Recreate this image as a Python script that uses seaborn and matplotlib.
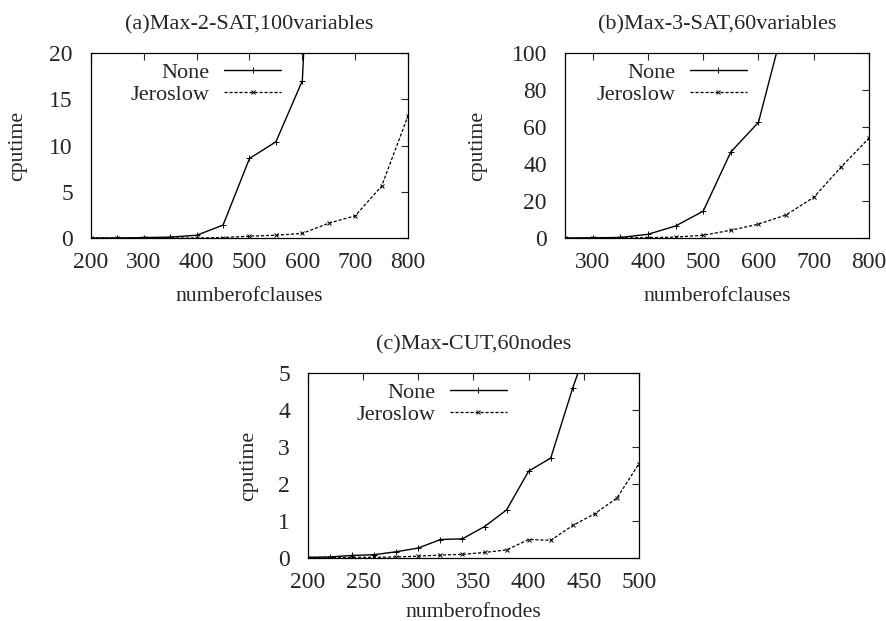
import matplotlib
matplotlib.use('Agg')
import matplotlib.pyplot as plt
import seaborn as sns
import pandas as pd

# panel (a) Max-2-SAT, 100 variables
a_x = [200, 250, 300, 350, 400, 450, 500, 550, 600, 650, 700, 750, 800]
a_none = [0.0, 0.0, 0.05, 0.1, 0.3, 1.4, 8.6, 10.4, 17.0, 77.0, None, None, None]
a_jero = [0.0, 0.0, 0.0, 0.0, 0.0, 0.05, 0.2, 0.3, 0.5, 1.6, 2.4, 5.6, 13.2]

# panel (b) Max-3-SAT, 60 variables
b_x = [250, 300, 350, 400, 450, 500, 550, 600, 650, 700, 750, 800]
b_none = [0.0, 0.1, 0.3, 2.0, 6.5, 14.5, 46.5, 62.5, 120.0, None, None, None]
b_jero = [0.0, 0.0, 0.1, 0.2, 0.5, 1.5, 4.2, 7.5, 12.5, 22.0, 38.5, 54.0]

# panel (c) Max-CUT, 60 nodes
c_x = [200, 220, 240, 260, 280, 300, 320, 340, 360, 380, 400, 420, 440, 460, 480, 500]
c_none = [0.02, 0.03, 0.07, 0.09, 0.17, 0.27, 0.5, 0.52, 0.85, 1.3, 2.35, 2.7, 4.6, 6.3, None, None]
c_jero = [0.01, 0.01, 0.02, 0.02, 0.03, 0.05, 0.08, 0.1, 0.15, 0.22, 0.5, 0.48, 0.88, 1.2, 1.62, 2.55]

sns.set_style('white')
plt.rcParams['font.family'] = ['Liberation Serif', 'DejaVu Serif']

fig = plt.figure(figsize=(8.86, 6.21), dpi=100)
ax_a = fig.add_axes([0.1027, 0.6167, 0.3578, 0.298])
ax_b = fig.add_axes([0.6377, 0.6167, 0.3431, 0.298])
ax_c = fig.add_axes([0.3476, 0.1014, 0.3736, 0.2979])


def panel(ax, x, none, jero, title, xlabel, xlim, xticks, ylim, yticks, ylab_x, xlpad):
    d1 = pd.DataFrame({'x': x, 'y': none}).dropna()
    d2 = pd.DataFrame({'x': x, 'y': jero}).dropna()
    sns.lineplot(data=d1, x='x', y='y', ax=ax, color='black', lw=1.0,
                 marker='+', markersize=4.5, mew=0.7, mec='black', label='None')
    sns.lineplot(data=d2, x='x', y='y', ax=ax, color='black', lw=0.9,
                 linestyle=(0, (2.5, 1.5)), marker='x', markersize=3.5, mew=0.7,
                 mec='black', label='Jeroslow')
    ax.set_xlim(*xlim)
    ax.set_ylim(*ylim)
    ax.set_xticks(xticks)
    ax.set_yticks(yticks)
    ax.tick_params(direction='in', top=True, right=True, length=5, width=0.8,
                   labelsize=17)
    ax.tick_params(axis='x', pad=10)
    ax.tick_params(axis='y', pad=13)
    for s in ax.spines.values():
        s.set_linewidth(0.9)
        s.set_color('black')
    ax.set_title(title, fontsize=16, pad=17)
    ax.set_xlabel(xlabel, fontsize=15.7, labelpad=xlpad)
    ax.set_ylabel('cputime', fontsize=15.7)
    ax.yaxis.set_label_coords(ylab_x, 0.5)
    ax.legend(loc='upper right', bbox_to_anchor=(0.62, 0.985), frameon=False,
              markerfirst=False, handlelength=2.55, handletextpad=0.65,
              borderaxespad=0.1, borderpad=0.2, labelspacing=0.05, fontsize=16)


panel(ax_a, a_x, a_none, a_jero, '(a)Max-2-SAT,100variables', 'numberofclauses',
      (200, 800), [200, 300, 400, 500, 600, 700, 800], (0, 20), [0, 5, 10, 15, 20],
      -0.202, 10)
panel(ax_b, b_x, b_none, b_jero, '(b)Max-3-SAT,60variables', 'numberofclauses',
      (250, 800), [300, 400, 500, 600, 700, 800], (0, 100), [0, 20, 40, 60, 80, 100],
      -0.255, 10)
panel(ax_c, c_x, c_none, c_jero, '(c)Max-CUT,60nodes', 'numberofnodes',
      (200, 500), [200, 250, 300, 350, 400, 450, 500], (0, 5), [0, 1, 2, 3, 4, 5],
      -0.15, 7)

fig.savefig('out.png', dpi=100)
